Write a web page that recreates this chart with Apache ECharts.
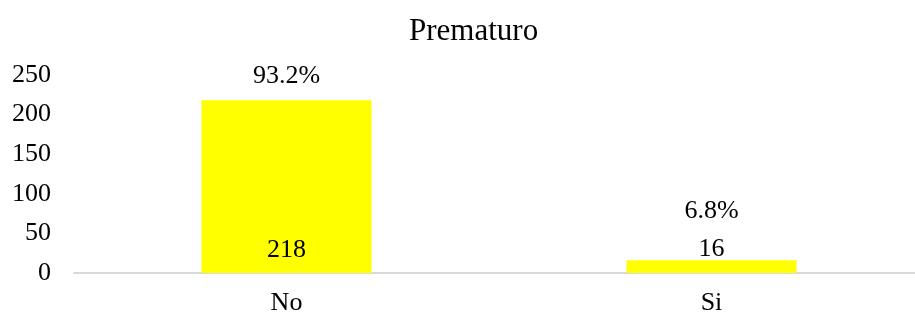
<!DOCTYPE html>
<html>
<head>
<meta charset="utf-8">
<script src="https://cdn.jsdelivr.net/npm/echarts@6/dist/echarts.min.js"></script>
<style>
    html, body { margin: 0; padding: 0; background: #fff; overflow: hidden; }
    #chart { width: 924px; height: 320px; }
</style>
</head>
<body>
<div id="chart"></div>
<script>
var categories = ['No', 'Si'];
var counts = [218, 16];
var percents = ['93.2%', '6.8%'];
var yTicks = { min: 0, max: 250, interval: 50 };

var font = 'Liberation Serif';
var chart = echarts.init(document.getElementById('chart'));

// "No" bar keeps its count inside, "Si" is too short so it goes above
var countPos = ['insideBottom', 'top'];
var countDist = [10, -2];
var pctDist = [11, 36];

var countData = counts.map(function (v, i) {
    return { value: v, label: { position: countPos[i], distance: countDist[i] } };
});
var pctData = counts.map(function (v, i) {
    return { value: v, label: { distance: pctDist[i] } };
});

var option = {
    animation: false,
    backgroundColor: '#fff',
    title: {
        text: 'Prematuro',
        left: 404,
        top: 11,
        textStyle: { fontFamily: font, fontSize: 31, fontWeight: 'normal', color: '#000' }
    },
    grid: { left: 74, right: 0, top: 75, bottom: 47 },
    xAxis: {
        type: 'category',
        data: categories,
        axisLine: { lineStyle: { color: '#d9d9d9', width: 2 } },
        axisTick: { show: false },
        axisLabel: { fontFamily: font, fontSize: 26, color: '#000', margin: 17 }
    },
    yAxis: {
        type: 'value',
        min: yTicks.min,
        max: yTicks.max,
        interval: yTicks.interval,
        splitLine: { show: false },
        axisLine: { show: false },
        axisTick: { show: false },
        axisLabel: { fontFamily: font, fontSize: 26, color: '#000', margin: 23 }
    },
    series: [
        {
            name: 'count',
            type: 'bar',
            barWidth: '40%',
            itemStyle: { color: '#ffff00' },
            label: { show: true, fontFamily: font, fontSize: 26, color: '#000' },
            data: countData
        },
        {
            name: 'pct',
            type: 'bar',
            barWidth: '40%',
            barGap: '-100%',
            itemStyle: { color: 'rgba(0,0,0,0)' },
            label: {
                show: true, position: 'top', fontFamily: font, fontSize: 26, color: '#000',
                formatter: function (p) { return percents[p.dataIndex]; }
            },
            data: pctData
        }
    ]
};
chart.setOption(option);
</script>
</body>
</html>
